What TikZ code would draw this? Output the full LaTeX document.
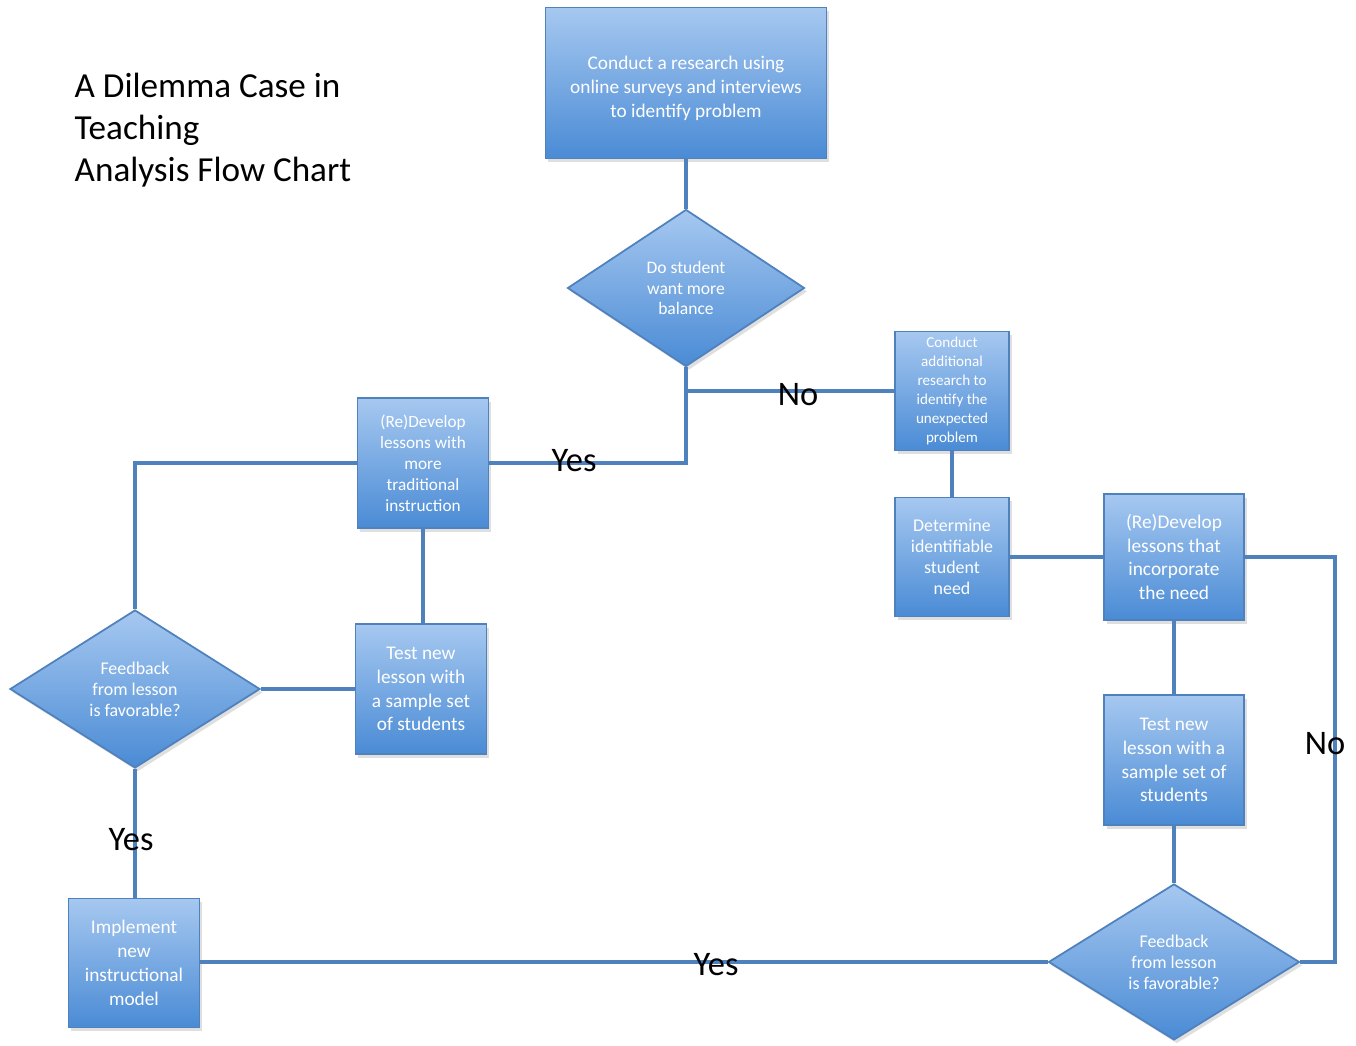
\documentclass[tikz,border=0pt]{standalone}
\usepackage{fontspec}
\setmainfont{Carlito}
\usetikzlibrary{shapes.geometric,shadows}
\definecolor{flowtop}{RGB}{166,200,240}
\definecolor{flowbot}{RGB}{74,139,213}
\definecolor{flowline}{RGB}{79,129,189}

\begin{document}
\begin{tikzpicture}[
  y=-1cm,
  block/.style={rectangle,draw=flowline,line width=0.5pt,top color=flowtop,bottom color=flowbot,text=white,align=center,inner sep=0pt,font=\fontsize{5.5}{6.8}\selectfont,drop shadow={opacity=0.25,shadow xshift=0.8pt,shadow yshift=-1pt}},
  decision/.style={diamond,draw=flowline,line width=0.5pt,top color=flowtop,bottom color=flowbot,text=white,align=center,inner sep=0pt,font=\fontsize{5.1}{6}\selectfont,drop shadow={opacity=0.25,shadow xshift=0.8pt,shadow yshift=-1pt}},
  link/.style={draw=flowline,line width=0.9pt},
  answer/.style={inner sep=0pt,font=\fontsize{9.8}{11}\selectfont}
]
  \useasboundingbox (0,0) rectangle (13.56,10.46);
  \node[anchor=north west,align=left,inner sep=0pt,font=\fontsize{10}{12}\selectfont] (title) at (0.74,0.72) {A Dilemma Case in\\Teaching\\Analysis Flow Chart};
  \node[block,minimum width=2.81cm,minimum height=1.51cm,text height=20.5pt] (research) at (6.86,0.83) {Conduct a research using\\online surveys and interviews\\to identify problem};
  \node[decision,minimum width=2.37cm,minimum height=1.57cm,font=\fontsize{5}{5.8}\selectfont] (balance) at (6.86,2.88) {Do student\\want more\\balance};
  \node[block,minimum width=1.14cm,minimum height=1.19cm,font=\fontsize{4.3}{5.4}\selectfont] (extra) at (9.52,3.91) {Conduct\\additional\\research to\\identify the\\unexpected\\problem};
  \node[block,minimum width=1.14cm,minimum height=1.19cm,font=\fontsize{5.1}{6}\selectfont] (need) at (9.52,5.57) {Determine\\identifiable\\student\\need};
  \node[block,minimum width=1.40cm,minimum height=1.26cm] (devneed) at (11.74,5.57) {(Re)Develop\\lessons that\\incorporate\\the need};
  \node[block,minimum width=1.40cm,minimum height=1.30cm] (testR) at (11.74,7.60) {Test new\\lesson with a\\sample set of\\students};
  \node[decision,minimum width=2.51cm,minimum height=1.56cm] (fbR) at (11.74,9.62) {Feedback\\from lesson\\is favorable?};
  \node[block,minimum width=1.31cm,minimum height=1.29cm] (implement) at (1.34,9.63) {Implement\\new\\instructional\\model};
  \node[block,minimum width=1.31cm,minimum height=1.30cm,font=\fontsize{4.9}{6}\selectfont] (devtrad) at (4.23,4.63) {(Re)Develop\\lessons with\\more\\traditional\\instruction};
  \node[block,minimum width=1.31cm,minimum height=1.30cm] (testL) at (4.21,6.89) {Test new\\lesson with\\a sample set\\of students};
  \node[decision,minimum width=2.50cm,minimum height=1.58cm] (fbL) at (1.35,6.89) {Feedback\\from lesson\\is favorable?};
  \coordinate (split) at (balance.south |- extra.west);
  \coordinate (turn) at (13.35,7.44);
  \draw[link] (research) -- (balance);
  \draw[link] (balance.south) |- (devtrad.east);
  \draw[link] (split) -- (extra.west);
  \draw[link] (extra) -- (need);
  \draw[link] (need) -- (devneed);
  \draw[link] (devneed) -- (testR);
  \draw[link] (testR) -- (fbR);
  \draw[link] (fbR.east) -| (turn) |- (devneed.east);
  \draw[link] (fbR.west) -- (implement.east |- fbR.west);
  \draw[link] (devtrad.south) -- (devtrad.south |- testL.north);
  \draw[link] (testL.west) -- (fbL.east);
  \draw[link] (fbL.north) |- (devtrad.west);
  \draw[link] (fbL.south) -- (fbL.south |- implement.north);
  \node[answer] (yes1) at (5.74,4.61) {Yes};
  \node[answer] (no1) at (7.98,3.95) {No};
  \node[answer] (yes2) at (1.31,8.40) {Yes};
  \node[answer] (yes3) at (7.16,9.65) {Yes};
  \node[answer] (no2) at (13.25,7.44) {No};
\end{tikzpicture}
\end{document}
